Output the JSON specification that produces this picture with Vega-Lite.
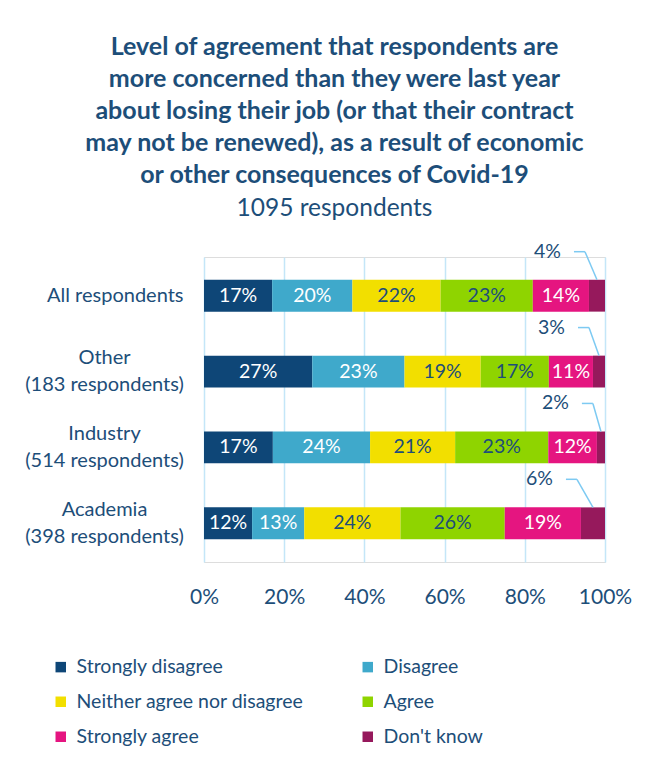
{
  "$schema": "https://vega.github.io/schema/vega-lite/v6.json",
  "width": 401,
  "height": 305,
  "autosize": {"type": "none"},
  "padding": {"left": 204, "top": 257, "right": 53, "bottom": 200},
  "background": "white",
  "title": {
    "text": ["Level of agreement that respondents are", "more concerned than they were last year", "about losing their job (or that their contract", "may not be renewed), as a result of economic", "or other consequences of Covid-19"],
    "subtitle": "1095 respondents",
    "font": "Lato", "fontSize": 25, "fontWeight": "bold", "color": "#1d4e79", "lineHeight": 32,
    "subtitleFont": "Lato", "subtitleFontSize": 24.5, "subtitleColor": "#1d4e79", "subtitleFontWeight": "normal", "subtitlePadding": 9, "subtitleLineHeight": 28,
    "anchor": "middle", "frame": "group", "dx": -70, "offset": 21
  },
  "data": {"values": [
    {"group": "All respondents", "category": "Strongly disagree", "value": 17, "o": 1},
    {"group": "All respondents", "category": "Disagree", "value": 20, "o": 2},
    {"group": "All respondents", "category": "Neither agree nor disagree", "value": 22, "o": 3},
    {"group": "All respondents", "category": "Agree", "value": 23, "o": 4},
    {"group": "All respondents", "category": "Strongly agree", "value": 14, "o": 5},
    {"group": "All respondents", "category": "Don't know", "value": 4, "o": 6},
    {"group": "Other (183 respondents)", "category": "Strongly disagree", "value": 27, "o": 1},
    {"group": "Other (183 respondents)", "category": "Disagree", "value": 23, "o": 2},
    {"group": "Other (183 respondents)", "category": "Neither agree nor disagree", "value": 19, "o": 3},
    {"group": "Other (183 respondents)", "category": "Agree", "value": 17, "o": 4},
    {"group": "Other (183 respondents)", "category": "Strongly agree", "value": 11, "o": 5},
    {"group": "Other (183 respondents)", "category": "Don't know", "value": 3, "o": 6},
    {"group": "Industry (514 respondents)", "category": "Strongly disagree", "value": 17, "o": 1},
    {"group": "Industry (514 respondents)", "category": "Disagree", "value": 24, "o": 2},
    {"group": "Industry (514 respondents)", "category": "Neither agree nor disagree", "value": 21, "o": 3},
    {"group": "Industry (514 respondents)", "category": "Agree", "value": 23, "o": 4},
    {"group": "Industry (514 respondents)", "category": "Strongly agree", "value": 12, "o": 5},
    {"group": "Industry (514 respondents)", "category": "Don't know", "value": 2, "o": 6},
    {"group": "Academia (398 respondents)", "category": "Strongly disagree", "value": 12, "o": 1},
    {"group": "Academia (398 respondents)", "category": "Disagree", "value": 13, "o": 2},
    {"group": "Academia (398 respondents)", "category": "Neither agree nor disagree", "value": 24, "o": 3},
    {"group": "Academia (398 respondents)", "category": "Agree", "value": 26, "o": 4},
    {"group": "Academia (398 respondents)", "category": "Strongly agree", "value": 19, "o": 5},
    {"group": "Academia (398 respondents)", "category": "Don't know", "value": 6, "o": 6}
  ]},
  "transform": [
    {"stack": "value", "groupby": ["group"], "sort": [{"field": "o", "order": "ascending"}], "offset": "normalize", "as": ["v0", "v1"]},
    {"calculate": "(datum.v0 + datum.v1) / 2", "as": "mid"},
    {"calculate": "format(datum.value, 'd') + '%'", "as": "lab"}
  ],
  "encoding": {
    "y": {
      "field": "group", "type": "nominal",
      "sort": ["All respondents", "Other (183 respondents)", "Industry (514 respondents)", "Academia (398 respondents)"],
      "scale": {"paddingInner": 0.58, "paddingOuter": 0.3},
      "axis": {
        "title": null, "domain": false, "ticks": false,
        "labelAlign": {"condition": {"test": "datum.value == 'All respondents'", "value": "right"}, "value": "center"},
        "labelPadding": {"condition": {"test": "datum.value == 'All respondents'", "value": 21}, "value": 100},
        "labelOffset": {"condition": {"test": "datum.value == 'All respondents'", "value": 0}, "value": -13.5},
        "labelBaseline": "middle",
        "labelFont": "Lato", "labelFontSize": 20, "labelColor": "#1d4e79", "labelLineHeight": 27, "labelLimit": 300,
        "labelExpr": "datum.value == 'All respondents' ? datum.value : split(replace(datum.value, ' (', '|('), '|')"
      }
    }
  },
  "layer": [
    {
      "mark": {"type": "bar"},
      "encoding": {
        "x": {
          "field": "v0", "type": "quantitative",
          "scale": {"domain": [0, 1]},
          "axis": {
            "title": null, "domain": false, "ticks": false, "grid": true, "gridColor": "#c4e6f8", "gridWidth": 1.5,
            "values": [0, 0.2, 0.4, 0.6, 0.8, 1], "format": ".0%", "labelFlush": false,
            "labelFont": "Lato", "labelFontSize": 21, "labelColor": "#1d4e79", "labelPadding": 24
          }
        },
        "x2": {"field": "v1"},
        "color": {
          "field": "category", "type": "nominal",
          "scale": {
            "domain": ["Strongly disagree", "Disagree", "Neither agree nor disagree", "Agree", "Strongly agree", "Don't know"],
            "range": ["#0e4677", "#3fa9cb", "#f2df00", "#8fd400", "#e51580", "#96195c"]
          },
          "legend": {
            "title": null, "orient": "none", "legendX": -153, "legendY": 400, "columns": 2, "direction": "horizontal", "columnPadding": 54, "rowPadding": 14,
            "symbolType": "square", "symbolSize": 110, "symbolStrokeWidth": 0, "labelFont": "Lato", "labelFontSize": 19.5, "labelColor": "#1d4e79", "labelOffset": 6, "labelLimit": 300
          }
        }
      }
    },
    {
      "transform": [{"filter": "datum.category != \"Don't know\""}],
      "mark": {"type": "text", "font": "Lato", "fontSize": 19.5, "baseline": "middle", "align": "center"},
      "encoding": {
        "x": {"field": "mid", "type": "quantitative"},
        "text": {"field": "lab", "type": "nominal"},
        "color": {
          "condition": {"test": "datum.category == 'Neither agree nor disagree' || datum.category == 'Agree'", "value": "#1d4e79"},
          "value": "white"
        }
      }
    },
    {
      "transform": [{"filter": "datum.category == \"Don't know\""}],
      "mark": {"type": "text", "font": "Lato", "fontSize": 19.5, "baseline": "middle", "align": "right", "dx": -28, "dy": -44, "color": "#1d4e79"},
      "encoding": {
        "x": {"field": "v0", "type": "quantitative"},
        "text": {"field": "lab", "type": "nominal"}
      }
    },
    {
      "transform": [{"filter": "datum.category == \"Don't know\""}],
      "mark": {"type": "rule", "color": "#7dcaf2", "strokeWidth": 1.5, "xOffset": -15, "x2Offset": -4, "yOffset": -44},
      "encoding": {
        "x": {"field": "v0", "type": "quantitative"},
        "x2": {"field": "v0"}
      }
    },
    {
      "transform": [{"filter": "datum.category == \"Don't know\""}],
      "mark": {"type": "rule", "color": "#7dcaf2", "strokeWidth": 1.5, "xOffset": -4, "yOffset": -44, "y2Offset": -16},
      "encoding": {
        "x": {"field": "v0", "type": "quantitative"},
        "x2": {"field": "mid"},
        "y2": {"field": "group"}
      }
    }
  ]
}
